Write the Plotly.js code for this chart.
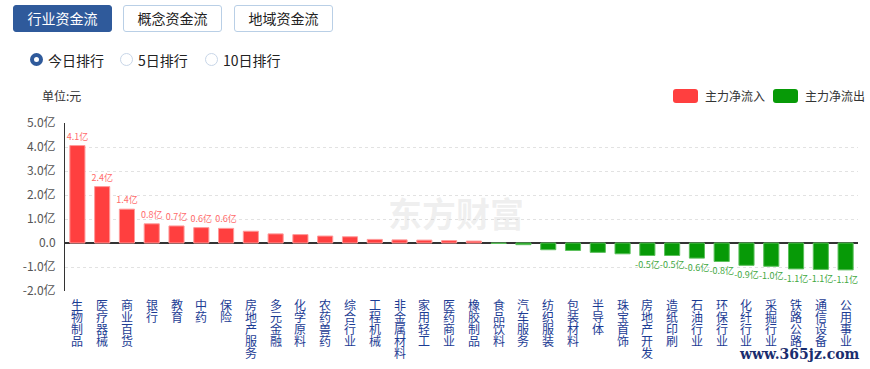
<!DOCTYPE html>
<html>
<head>
<meta charset="utf-8">
<script src="https://cdn.plot.ly/plotly-3.0.1.min.js"></script>
<style>
  html, body { margin: 0; padding: 0; background: #fff; }
  body { width: 870px; height: 369px; position: relative; overflow: hidden;
         font-family: "Noto Sans CJK SC", "Noto Sans", sans-serif; }
  #chart { position: absolute; left: 0; top: 0; width: 870px; height: 369px; }
  .btn { position: absolute; top: 5px; height: 27px; width: 99px; box-sizing: border-box;
         border: 1px solid #b9cfe6; border-radius: 3px; font-size: 14px; line-height: 25px;
         text-align: center; color: #222; background: #fff; z-index: 2; }
  .btn.on { background: #2f5a9b; border-color: #2f5a9b; color: #fff; }
  .radio { position: absolute; top: 51px; height: 18px; font-size: 14px; line-height: 18px;
           color: #222; z-index: 2; }
  .radio i { position: absolute; left: 0; top: 2px; width: 13px; height: 13px; box-sizing: border-box;
             border-radius: 50%; border: 1px solid #c8d6e8; background: #fff; }
  .radio.on i { border: 4px solid #2f5a9b; }
  .radio span { position: absolute; left: 18px; top: 0; white-space: nowrap; }
</style>
</head>
<body>
<div id="chart"></div>
<div class="btn on" style="left:13px">行业资金流</div>
<div class="btn" style="left:123px">概念资金流</div>
<div class="btn" style="left:234px">地域资金流</div>
<div class="radio on" style="left:30px"><i></i><span>今日排行</span></div>
<div class="radio" style="left:120px"><i></i><span>5日排行</span></div>
<div class="radio" style="left:205px"><i></i><span>10日排行</span></div>
<script>
// ---- data ----
const categories = ["生物制品","医疗器械","商业百货","银行","教育","中药","保险","房地产服务",
  "多元金融","化学原料","农药兽药","综合行业","工程机械","非金属材料","家用轻工","医药商业",
  "橡胶制品","食品饮料","汽车服务","纺织服装","包装材料","半导体","珠宝首饰","房地产开发",
  "造纸印刷","石油行业","环保行业","化纤行业","采掘行业","铁路公路","通信设备","公用事业"];
const netFlow = [4.06, 2.35, 1.41, 0.80, 0.71, 0.64, 0.61, 0.49,
  0.38, 0.35, 0.29, 0.26, 0.15, 0.13, 0.12, 0.10,
  0.08, -0.02, -0.07, -0.28, -0.31, -0.39, -0.45, -0.52,
  -0.52, -0.63, -0.77, -0.93, -0.97, -1.08, -1.10, -1.12];
const barLabels = ["4.1亿","2.4亿","1.4亿","0.8亿","0.7亿","0.6亿","0.6亿","",
  "","","","","","","","",
  "","","","","","","","-0.5亿",
  "-0.5亿","-0.6亿","-0.8亿","-0.9亿","-1.0亿","-1.1亿","-1.1亿","-1.1亿"];
const yTickVals = [5, 4, 3, 2, 1, 0, -1, -2];
const yTickText = ["5.0亿","4.0亿","3.0亿","2.0亿","1.0亿","0.0","-1.0亿","-2.0亿"];
const legendNames = ["主力净流入", "主力净流出"];

// ---- styles ----
const RED = "#ff3f3f", GREEN = "#079a07";
const FONT = '"Noto Sans CJK SC", "Noto Sans", sans-serif';
const W = 870, H = 369, M = {l: 65, r: 12, t: 123, b: 78};
const pw = W - M.l - M.r, ph = H - M.t - M.b;
const fx = px => (px - M.l) / pw;
const fy = py => (H - M.b - py) / ph;

function roundRect(x0, y0, x1, y1, r) {
  const rx = r / pw, ry = r / ph;
  const X0 = fx(x0), X1 = fx(x1), Y0 = fy(y1), Y1 = fy(y0);
  return `M${X0+rx},${Y0} L${X1-rx},${Y0} Q${X1},${Y0} ${X1},${Y0+ry} L${X1},${Y1-ry} Q${X1},${Y1} ${X1-rx},${Y1} ` +
         `L${X0+rx},${Y1} Q${X0},${Y1} ${X0},${Y1-ry} L${X0},${Y0+ry} Q${X0},${Y0} ${X0+rx},${Y0} Z`;
}

const trace = {
  type: "bar",
  x: categories,
  y: netFlow,
  text: barLabels,
  textposition: "outside",
  constraintext: "none",
  cliponaxis: false,
  textfont: {family: FONT, size: 9, color: netFlow.map(v => v >= 0 ? "#ff6b6b" : "#3fa83f")},
  marker: {
    color: netFlow.map(v => v >= 0 ? RED : GREEN),
    line: {width: 1, color: netFlow.map(v => v >= 0 ? "#ff9a9a" : "#5cc05c")}
  },
  hoverinfo: "skip",
  showlegend: false
};

// vertical category labels: one character per line, tight 12px pitch
const catAnnotations = [];
categories.forEach(c => {
  c.split("").forEach((ch, k) => {
    catAnnotations.push({
      xref: "x", yref: "paper", x: c, y: 0, xanchor: "center", yanchor: "middle",
      yshift: -(13 + 12 * k), text: ch, showarrow: false,
      font: {family: FONT, size: 12, color: "#1c3c94"}
    });
  });
});

const layout = {
  width: W, height: H,
  margin: M,
  paper_bgcolor: "#fff", plot_bgcolor: "#fff",
  font: {family: FONT, size: 12, color: "#333"},
  bargap: 0.39,
  showlegend: false,
  xaxis: {
    type: "category",
    showticklabels: false,
    ticks: "",
    showline: false, showgrid: false, zeroline: false,
    fixedrange: true
  },
  yaxis: {
    range: [-2, 5],
    tickvals: yTickVals, ticktext: yTickText,
    tickfont: {family: FONT, size: 12, color: "#555"},
    ticks: "",
    ticklabelstandoff: 6,
    showline: true, linecolor: "#333", linewidth: 1,
    showgrid: true, gridcolor: "#e2e2e2", griddash: "3px,3px", gridwidth: 1,
    zeroline: true, zerolinecolor: "#333", zerolinewidth: 1.5,
    fixedrange: true
  },
  shapes: [
    {type: "path", xref: "paper", yref: "paper", path: roundRect(673, 89, 698, 103, 3),
     fillcolor: RED, line: {width: 0}},
    {type: "path", xref: "paper", yref: "paper", path: roundRect(773, 89, 798, 103, 3),
     fillcolor: GREEN, line: {width: 0}}
  ],
  annotations: [
    {xref: "paper", yref: "paper", x: fx(703), y: fy(96), xanchor: "left", yanchor: "middle",
     text: legendNames[0], showarrow: false, font: {family: FONT, size: 12, color: "#333"}},
    {xref: "paper", yref: "paper", x: fx(803), y: fy(96), xanchor: "left", yanchor: "middle",
     text: legendNames[1], showarrow: false, font: {family: FONT, size: 12, color: "#333"}},
    {xref: "paper", yref: "paper", x: fx(40), y: fy(96), xanchor: "left", yanchor: "middle",
     text: "单位:元", showarrow: false, font: {family: FONT, size: 12, color: "#333"}},
    {xref: "paper", yref: "paper", x: fx(456), y: fy(212), xanchor: "center", yanchor: "middle",
     text: "<b>东方财富</b>", showarrow: false, font: {family: FONT, size: 34, color: "rgba(200,200,200,0.28)"}},
    {xref: "paper", yref: "paper", x: fx(862), y: fy(354), xanchor: "right", yanchor: "middle",
     text: "<b>www.365jz.com</b>", showarrow: false, font: {family: "DejaVu Serif, serif", size: 14, color: "#1a2d6e"}}
  ].concat(catAnnotations)
};

Plotly.newPlot("chart", [trace], layout, {displayModeBar: false, staticPlot: true});
</script>
</body>
</html>
